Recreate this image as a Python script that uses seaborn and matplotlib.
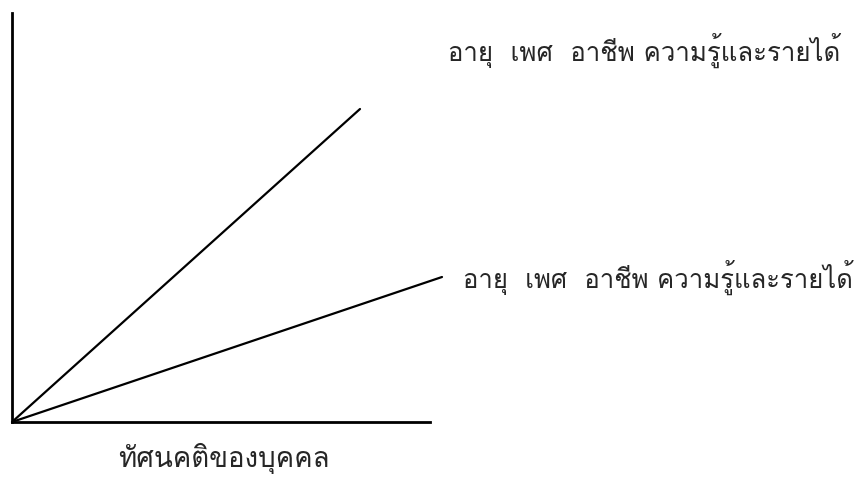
import matplotlib
matplotlib.use("Agg")
import matplotlib.pyplot as plt
import seaborn as sns
import pandas as pd

sns.set_style("white")
plt.rcParams['font.family'] = ['Loma', 'Noto Sans Thai Looped', 'DejaVu Sans']

# Data
series = ["upper", "lower"]
x_start = [0, 0]
y_start = [0, 0]
x_end = [348, 430]
y_end = [313, 145]
labels = ["อายุ  เพศ  อาชีพ ความรู้และรายได้", "อายุ  เพศ  อาชีพ ความรู้และรายได้"]
xlabel = "ทัศนคติของบุคคล"

rows = []
for s, xs, ys, xe, ye in zip(series, x_start, y_start, x_end, y_end):
    rows.append({"series": s, "x": xs, "y": ys})
    rows.append({"series": s, "x": xe, "y": ye})
df = pd.DataFrame(rows)

fig = plt.figure(figsize=(8.56, 4.89), dpi=100)
ax = fig.add_axes([12/856, 66/489, 418/856, 409/489])
sns.lineplot(data=df, x="x", y="y", units="series", estimator=None,
             color="black", linewidth=1.6, ax=ax, legend=False)
for l in ax.lines:
    l.set_clip_on(False)
ax.set_xlim(0, 418)
ax.set_ylim(0, 409)
ax.set_xticks([]); ax.set_yticks([])
ax.set_xlabel(""); ax.set_ylabel("")
for sp in ["top", "right"]:
    ax.spines[sp].set_visible(False)
for sp in ["left", "bottom"]:
    ax.spines[sp].set_color("black")
    ax.spines[sp].set_linewidth(2)

fs = 17
t1 = ax.text(436, 373, labels[0], fontsize=fs, va="center", ha="left", clip_on=False)
t2 = ax.text(451, 146, labels[1], fontsize=fs, va="center", ha="left", clip_on=False)
t3 = ax.text(106, -35, xlabel, fontsize=fs, va="center", ha="left", clip_on=False)

# fit text widths to the reference's widths (in pixels)
fig.canvas.draw()
r = fig.canvas.get_renderer()
for t, w in [(t1, 392), (t2, 390), (t3, 212)]:
    cur = t.get_window_extent(r).width
    t.set_fontsize(fs * w / cur)

fig.savefig("out.png", dpi=100)
